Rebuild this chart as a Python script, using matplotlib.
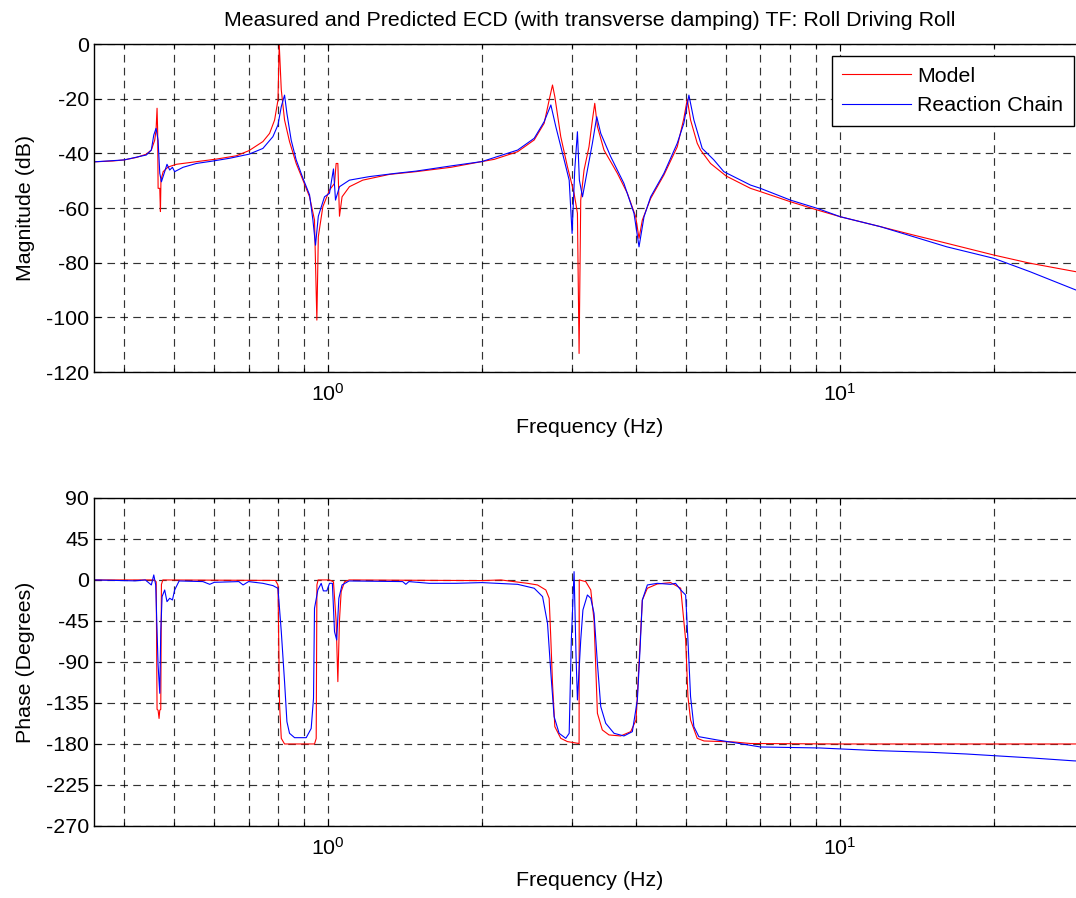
import matplotlib.pyplot as plt
from matplotlib.ticker import MultipleLocator, LogLocator, NullFormatter

# transfer function, roll driving roll: model vs. reaction chain measurement
model_mag_f = [0.35, 0.38, 0.40, 0.4227, 0.4419, 0.452, 0.4589, 0.4617, 0.4638, 0.465,
               0.466, 0.4695, 0.4709, 0.472, 0.4767, 0.4874, 0.506, 0.5535, 0.6056, 0.6624,
               0.7015, 0.7466, 0.7694, 0.787, 0.799, 0.8035, 0.811, 0.823, 0.8416, 0.8672,
               0.894, 0.921, 0.9417, 0.9517, 0.958, 0.9777, 1.0074, 1.0304, 1.038, 1.046,
               1.0537, 1.066, 1.102, 1.17, 1.319, 1.487, 1.74, 2.0, 2.113, 2.348,
               2.53, 2.646, 2.706, 2.747, 2.776, 2.851, 2.938, 3.027, 3.073, 3.096,
               3.119, 3.166, 3.237, 3.287, 3.322, 3.362, 3.463, 3.678, 3.847, 3.994,
               4.054, 4.115, 4.272, 4.535, 4.815, 4.96, 5.037, 5.112, 5.267, 5.348,
               5.592, 6.0, 6.693, 7.0, 8.01, 9.03, 10.03, 12.0, 13.94, 16.19,
               20.0, 23.54, 28.94, 30.0]
model_mag = [-43.1, -42.8, -42.4, -41.5, -40.3, -38.8, -35.2, -31.5, -23.5, -31.5,
             -52.8, -52.8, -61.3, -49.8, -46.7, -45.0, -44.0, -43.05, -42.1, -40.9,
             -39.0, -35.7, -32.7, -27.8, -20.5, 0.0, -16.8, -27.8, -35.7, -43.7,
             -49.8, -55.9, -64.4, -101.0, -70.5, -59.5, -53.4, -51.0, -43.7, -43.7,
             -63.0, -55.9, -52.2, -49.8, -47.7, -46.7, -45.1, -43.0, -42.2, -39.4,
             -35.1, -29.0, -20.5, -15.0, -19.3, -33.9, -44.9, -54.6, -61.9, -113.2,
             -57.1, -46.1, -37.6, -27.8, -21.7, -30.2, -38.8, -47.3, -54.6, -63.2,
             -71.1, -64.4, -56.5, -47.9, -37.6, -27.2, -20.2, -27.8, -36.3, -38.8,
             -43.7, -48.3, -52.8, -54.0, -57.7, -60.7, -63.2, -66.8, -69.9, -72.9,
             -77.2, -80.2, -83.3, -83.8]

meas_mag_f = [0.35, 0.40, 0.4419, 0.452, 0.457, 0.4617, 0.4659, 0.4695, 0.473, 0.480,
              0.485, 0.491, 0.497, 0.502, 0.5214, 0.5535, 0.5967, 0.6428, 0.7015, 0.7466,
              0.781, 0.799, 0.811, 0.823, 0.8318, 0.848, 0.8672, 0.894, 0.921, 0.935,
              0.946, 0.958, 0.985, 1.0074, 1.0256, 1.035, 1.0537, 1.102, 1.206, 1.359,
              1.487, 1.74, 2.0, 2.348, 2.53, 2.646, 2.727, 2.788, 2.895, 2.961,
              3.0, 3.036, 3.073, 3.1, 3.144, 3.214, 3.287, 3.352, 3.413, 3.569,
              3.788, 3.963, 4.054, 4.146, 4.272, 4.535, 4.815, 4.96, 5.074, 5.189,
              5.387, 5.677, 5.937, 6.693, 7.0, 8.01, 9.03, 10.03, 12.0, 13.94,
              16.19, 20.0, 23.54, 28.94, 30.0]
meas_mag = [-43.1, -42.4, -40.6, -38.8, -33.3, -30.85, -35.2, -47.3, -50.4, -46.7,
            -44.0, -46.1, -45.1, -46.7, -45.1, -43.7, -42.8, -41.8, -40.3, -38.2,
            -33.9, -29.6, -22.9, -18.7, -25.4, -35.2, -42.4, -49.1, -55.2, -64.4,
            -73.6, -63.0, -55.9, -54.6, -45.7, -57.1, -52.2, -49.8, -48.5, -47.3,
            -46.5, -44.6, -43.0, -38.8, -34.5, -28.4, -22.3, -30.2, -42.4, -49.8,
            -69.3, -46.1, -32.1, -49.8, -55.9, -46.1, -36.3, -26.6, -32.7, -41.2,
            -51.0, -61.9, -74.2, -63.2, -55.9, -47.3, -36.3, -29.0, -18.7, -27.8,
            -38.2, -42.4, -46.7, -51.6, -52.8, -57.1, -60.1, -63.2, -66.8, -70.5,
            -74.2, -78.4, -83.3, -90.0, -90.8]

model_ph_f = [0.35, 0.458, 0.462, 0.4638, 0.466, 0.468, 0.4695, 0.4716, 0.473, 0.476,
              0.79, 0.799, 0.8048, 0.811, 0.823, 0.9417, 0.9489, 0.952, 0.957, 1.0074,
              1.0256, 1.038, 1.046, 1.0537, 1.0617, 1.078, 1.10, 2.0, 2.178, 2.455,
              2.568, 2.666, 2.706, 2.727, 2.747, 2.776, 2.851, 2.938, 3.096, 3.098,
              3.19, 3.263, 3.311, 3.335, 3.362, 3.437, 3.542, 3.733, 3.905, 4.0,
              4.054, 4.115, 4.209, 4.402, 4.674, 4.89, 5.0, 5.052, 5.112, 5.267,
              5.43, 6.21, 6.693, 10.0, 30.0]
model_ph = [0.0, 0.0, -2.0, -142.0, -143.0, -152.0, -143.0, -142.0, -5.0, 0.0,
            -0.5, -5.5, -137.0, -173.8, -180.0, -180.0, -174.0, -5.5, 0.0, 0.0,
            -2.0, -45.7, -111.6, -44.0, -12.8, -2.0, 0.0, -0.7, 0.0, -3.7,
            -5.5, -11.0, -20.1, -65.9, -113.4, -161.0, -173.8, -177.4, -179.5, 0.0,
            -1.8, -11.0, -43.9, -91.5, -146.3, -164.6, -170.1, -171.2, -166.5, -153.7,
            -91.5, -22.0, -9.1, -4.4, -2.9, -9.1, -65.9, -128.0, -153.7, -173.8,
            -176.7, -177.8, -179.5, -180.0, -180.0]

meas_ph_f = [0.35, 0.42, 0.44, 0.452, 0.457, 0.461, 0.4659, 0.4695, 0.4716, 0.4744,
             0.480, 0.485, 0.491, 0.497, 0.502, 0.5122, 0.57, 0.5878, 0.60, 0.67,
             0.683, 0.70, 0.7466, 0.781, 0.799, 0.811, 0.823, 0.8318, 0.8416, 0.861,
             0.9073, 0.9277, 0.9375, 0.9417, 0.956, 0.9705, 0.98, 0.9954, 1.0074, 1.0205,
             1.0304, 1.0405, 1.0507, 1.066, 1.10, 1.40, 1.42, 1.44, 1.578, 1.779,
             2.0, 2.348, 2.53, 2.627, 2.686, 2.727, 2.767, 2.83, 2.916, 2.961,
             2.99, 3.027, 3.054, 3.073, 3.119, 3.15, 3.214, 3.263, 3.311, 3.362,
             3.413, 3.49, 3.623, 3.788, 3.934, 4.024, 4.072, 4.115, 4.209, 4.402,
             4.674, 4.778, 4.89, 5.0, 5.052, 5.112, 5.189, 5.306, 5.763, 6.21,
             7.0, 9.15, 11.83, 15.08, 17.67, 20.5, 23.8, 28.6, 30.0]
meas_ph = [0.0, -1.0, 0.0, -5.5, 5.5, -5.5, -93.0, -124.4, -56.7, -18.3,
           -11.0, -23.8, -20.1, -22.0, -11.0, -1.1, -1.8, -4.8, -2.6, -1.8,
           -5.5, -1.8, -3.7, -6.2, -9.2, -56.7, -111.6, -155.5, -168.3, -173.1,
           -173.1, -163.0, -130.0, -31.1, -11.0, -3.7, -12.0, -12.0, -3.7, -3.7,
           -56.7, -65.9, -20.1, -5.5, -1.1, -1.8, -4.8, -1.8, -3.7, -3.7,
           -2.9, -4.8, -9.1, -18.3, -47.6, -102.4, -150.0, -168.3, -173.8, -168.3,
           -65.9, 9.1, -84.1, -131.7, -65.9, -32.9, -16.5, -20.1, -36.6, -91.5,
           -139.0, -157.3, -168.3, -171.2, -166.5, -131.7, -76.8, -22.0, -5.5, -3.7,
           -4.8, -3.7, -11.0, -16.5, -65.9, -128.0, -161.0, -172.0, -175.6, -178.5,
           -183.3, -184.4, -187.3, -189.2, -191.0, -193.2, -195.4, -198.5, -199.0]

FS = 15.4

plt.rcParams['font.family'] = ['Liberation Sans', 'DejaVu Sans']
plt.rcParams['font.size'] = FS
plt.rcParams['axes.unicode_minus'] = False
plt.rcParams['mathtext.fontset'] = 'custom'
plt.rcParams['mathtext.rm'] = 'Liberation Sans'
plt.rcParams['lines.scale_dashes'] = False


def style_axes(ax, ylim, ystep):
    ax.set_xscale('log')
    ax.set_xlim(0.35, 30)
    ax.set_ylim(*ylim)
    ax.yaxis.set_major_locator(MultipleLocator(ystep))
    ax.xaxis.set_major_locator(LogLocator(base=10))
    ax.xaxis.set_minor_locator(LogLocator(base=10, subs=range(2, 10)))
    ax.xaxis.set_minor_formatter(NullFormatter())
    grid_kw = dict(color='k', linewidth=0.85, alpha=0.8, linestyle=(0, (5.5, 3.8)))
    ax.grid(True, which='both', axis='x', **grid_kw)
    ax.grid(True, which='major', axis='y', **grid_kw)
    ax.tick_params(which='both', direction='in', top=True, right=True, width=0.8)
    ax.tick_params(which='major', length=5, labelsize=FS)
    ax.tick_params(which='minor', length=3)
    ax.tick_params(axis='x', pad=8)
    ax.tick_params(axis='y', pad=4)
    for s in ax.spines.values():
        s.set_linewidth(1.0)
    ax.set_xlabel('Frequency (Hz)', labelpad=9)


fig = plt.figure(figsize=(10.76, 8.98), dpi=100)
ax1 = fig.add_axes([0.0878, 0.5857, 0.9196, 0.3653])
ax2 = fig.add_axes([0.0878, 0.0802, 0.9196, 0.3653])

ax1.plot(model_mag_f, model_mag, color='red', lw=0.8, label='Model')
ax1.plot(meas_mag_f, meas_mag, color='blue', lw=0.8, label='Reaction Chain')
style_axes(ax1, (-120, 0), 20)
ax1.set_ylabel('Magnitude (dB)', labelpad=8)
ax1.set_title('Measured and Predicted ECD (with transverse damping) TF: Roll Driving Roll',
              fontsize=FS, pad=13)
leg = ax1.legend(loc='upper right', bbox_to_anchor=(1074 / 1076, 1 - 56 / 898),
                 bbox_transform=fig.transFigure, fancybox=False, framealpha=1,
                 edgecolor='k', handlelength=3.2, handletextpad=0.3,
                 borderpad=0.5, labelspacing=0.5, borderaxespad=0, fontsize=FS)
leg.get_frame().set_linewidth(1.0)

ax2.plot(model_ph_f, model_ph, color='red', lw=0.8)
ax2.plot(meas_ph_f, meas_ph, color='blue', lw=0.8)
style_axes(ax2, (-270, 90), 45)
ax2.set_ylabel('Phase (Degrees)', labelpad=8)

fig.savefig('out.png', dpi=100)
